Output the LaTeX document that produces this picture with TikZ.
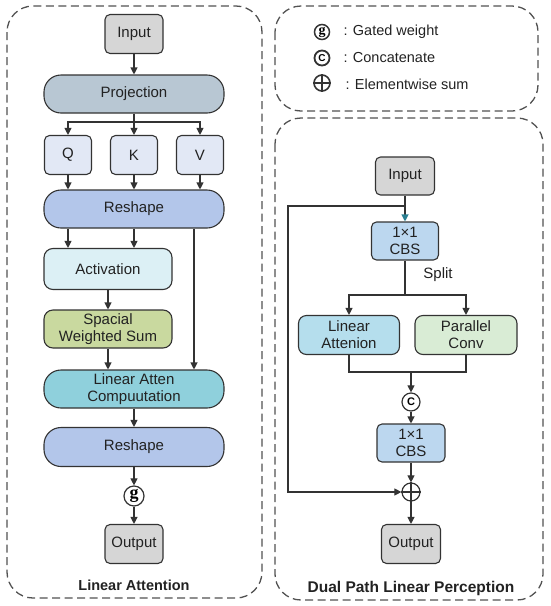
\documentclass[tikz,border=0pt]{standalone}
\usepackage{fontspec}
\setmainfont{Liberation Sans}
\newfontfamily\serifg{Liberation Serif}
\usetikzlibrary{arrows.meta}
\definecolor{edge}{HTML}{333333}
\definecolor{txt}{HTML}{222222}
\definecolor{cgray}{HTML}{D6D6D6}
\definecolor{cproj}{HTML}{B8C7D3}
\definecolor{cqkv}{HTML}{E2E8F5}
\definecolor{cresh}{HTML}{B3C6EA}
\definecolor{cact}{HTML}{DCF0F5}
\definecolor{csws}{HTML}{C9D99F}
\definecolor{clac}{HTML}{8FD0DC}
\definecolor{ccbs}{HTML}{BCD7EF}
\definecolor{cla}{HTML}{B5DEED}
\definecolor{cpc}{HTML}{D9ECD5}
\definecolor{cteal}{HTML}{2A7F92}
\begin{document}
\begin{tikzpicture}[x=1pt,y=-1pt,
  box/.style={draw=edge, line width=1.1pt, rounded corners=5pt, align=center,
    font=\fontsize{15}{17}\selectfont, text=txt, inner sep=0pt},
  pill/.style={box, rounded corners=17pt},
  circ/.style={circle, draw=edge, line width=1.2pt, inner sep=0pt, minimum size=19pt},
  arr/.style={draw=edge, line width=1.1pt, -{Triangle[length=7pt,width=7pt]}},
  ln/.style={draw=edge, line width=1.1pt},
  panel/.style={draw=edge!85, line width=1.3pt, dash pattern=on 8pt off 4.5pt, rounded corners=26pt},
  title/.style={font=\bfseries\fontsize{14.5}{16}\selectfont, text=txt},
]
\useasboundingbox (0,0) rectangle (550,606);
% panels
\draw[panel] (7,6) rectangle (262,598);
\draw[panel] (275,6) rectangle (538,111);
\draw[panel] (275,118) rectangle (543,600);

% ---------- Linear Attention ----------
\node[box, fill=cgray, minimum width=58pt, minimum height=39pt] (in1) at (134,34) {Input};
\node[pill, fill=cproj, minimum width=180pt, minimum height=38pt] (proj) at (134,94) {Projection};
\node[box, fill=cqkv, minimum width=47pt, minimum height=39pt] (q) at (68,155) {Q};
\node[box, fill=cqkv, minimum width=47pt, minimum height=39pt] (k) at (134,155) {K};
\node[box, fill=cqkv, minimum width=47pt, minimum height=39pt] (v) at (200,155) {V};
\node[pill, fill=cresh, minimum width=180pt, minimum height=38pt] (resh) at (134,209) {Reshape};
\node[box, fill=cact, rounded corners=9pt, minimum width=128pt, minimum height=41pt] (act) at (108,269) {Activation};
\node[box, fill=csws, rounded corners=9pt, minimum width=128pt, minimum height=38pt] (sws) at (108,329) {Spacial\\Weighted Sum};
\node[pill, fill=clac, minimum width=180pt, minimum height=38pt] (lac) at (134,389) {Linear Atten\\Compuutation};
\node[pill, fill=cresh, minimum width=180pt, minimum height=39pt] (resh2) at (134,447) {Reshape};
\node[circ, minimum size=20pt] (g) at (134,496) {\serifg\bfseries\fontsize{18}{18}\selectfont g};
\node[box, fill=cgray, minimum width=58pt, minimum height=39pt] (out1) at (134,544) {Output};
\node[title] (t1) at (134,585) {Linear Attention};

\coordinate (pb) at (134,122);
\draw[arr] (in1) -- (proj);
\draw[ln] (proj) -- (pb);
\draw[arr] (pb) -| (q);
\draw[arr] (pb) -- (k);
\draw[arr] (pb) -| (v);
\draw[arr] (q) -- (q |- resh.north);
\draw[arr] (k) -- (k |- resh.north);
\draw[arr] (v) -- (v |- resh.north);
\draw[arr] (resh.south -| q) -- (act.north -| q);
\draw[arr] (resh.south -| k) -- (act.north -| k);
\draw[arr] ([xshift=60pt]resh.south) -- ([xshift=60pt]lac.north);
\draw[arr] (act) -- (sws);
\draw[arr] (sws.south) -- (sws.south |- lac.north);
\draw[arr] (lac) -- (resh2);
\draw[arr] (resh2) -- (g);
\draw[arr] (g) -- (out1);

% ---------- Legend ----------
\node[circle, draw=edge, line width=1.5pt, inner sep=0pt, minimum size=15pt] (lg) at (322,32) {\serifg\bfseries\fontsize{14}{14}\selectfont g};
\node[circle, draw=edge, line width=1.8pt, inner sep=0pt, minimum size=15pt] (lc) at (322,58) {\bfseries\fontsize{10}{10}\selectfont C};
\node[circle, draw=edge, line width=1.6pt, inner sep=0pt, minimum size=16pt] (lp) at (322,83) {};
\draw[draw=edge, line width=1.6pt] (lp.north) -- (lp.south) (lp.west) -- (lp.east);
\node[anchor=west, text=txt, font=\fontsize{14.5}{16}\selectfont] (tg) at (340,32) {: Gated weight};
\node[anchor=west, text=txt, font=\fontsize{14.5}{16}\selectfont] (tc) at (340,58) {: Concatenate};
\node[anchor=west, text=txt, font=\fontsize{14.5}{16}\selectfont] (tp) at (342,84) {: Elementwise sum};

% ---------- Dual Path Linear Perception ----------
\node[box, fill=cgray, minimum width=59pt, minimum height=38pt] (in2) at (405,176) {Input};
\node[box, fill=ccbs, minimum width=67pt, minimum height=38pt] (cbs1) at (405,241) {1×1\\CBS};
\node[text=txt, font=\fontsize{15}{17}\selectfont] (split) at (438,275) {Split};
\node[box, fill=cla, rounded corners=8pt, minimum width=101pt, minimum height=39pt] (la) at (349,335) {Linear\\Attenion};
\node[box, fill=cpc, rounded corners=8pt, minimum width=102pt, minimum height=39pt] (pc) at (466,335) {Parallel\\Conv};
\node[circ, minimum size=18pt] (cc) at (411,402) {\bfseries\fontsize{11}{11}\selectfont C};
\node[box, fill=ccbs, minimum width=68pt, minimum height=38pt] (cbs2) at (411,443) {1×1\\CBS};
\node[circ, minimum size=18pt] (pl) at (411,492) {};
\draw[ln] (pl.north) -- (pl.south) (pl.west) -- (pl.east);
\node[box, fill=cgray, minimum width=59pt, minimum height=39pt] (out2) at (411,544) {Output};
\node[title, font=\bfseries\fontsize{15.5}{17}\selectfont] (t2) at (411,588) {Dual Path Linear Perception};

\coordinate (ib) at (405,206);
\coordinate (s1) at (288,206);
\coordinate (s2) at (288,492);
\coordinate (sp) at (405,295);
\coordinate (mg) at (411,372);
\draw[ln] (in2) -- (ib);
\draw[draw=edge, line width=1.1pt, -{Triangle[length=7pt,width=7pt,color=cteal]}] (ib) -- (cbs1);
\draw[arr] (ib) -- (s1) -- (s2) -- (pl);
\draw[ln] (cbs1) -- (sp);
\draw[arr] (sp) -| (la);
\draw[arr] (sp) -| (pc);
\draw[ln] (la.south) |- (mg);
\draw[ln] (pc.south) |- (mg);
\draw[arr] (mg) -- (cc);
\draw[arr] (cc) -- (cbs2);
\draw[arr] (cbs2) -- (pl);
\draw[arr] (pl) -- (out2);
\end{tikzpicture}
\end{document}
